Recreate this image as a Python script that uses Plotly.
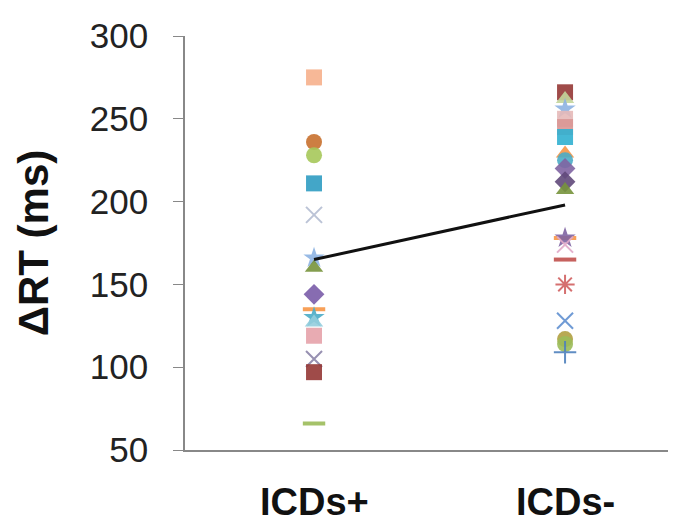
import plotly.graph_objects as go

categories = ["ICDs+", "ICDs-"]

# values (ms)
icds_pos = [275, 236, 228, 211, 192, 166, 160, 144, 135, 130, 127, 119, 105, 97, 66]
icds_neg = [266, 262, 256, 250, 245, 239, 229, 225, 220, 212, 207, 178, 178, 174, 165,
            150, 128, 117, 114, 109]
means = [165, 198]

# marker styles (Excel-like series cycling)
pos_symbols = ["square", "circle", "circle", "square", "x-thin-open", "star", "triangle-up",
               "diamond", "line-ew-open", "star", "triangle-up", "square", "x-thin-open",
               "square", "line-ew-open"]
pos_colors = ["#F6B08C", "#C8702E", "#A6C85A", "#2F9CC2", "#B4BCD2", "#8DB3E2", "#77933C",
              "#7A5CA8", "#F79646", "#4BACC6", "#93CDDD", "#E6A2AA", "#8C84A8",
              "#953735", "#9BBB59"]
neg_symbols = ["square", "triangle-up", "star", "square", "square", "square", "triangle-up",
               "circle", "diamond", "diamond", "triangle-up", "line-ew-open", "star",
               "x-thin-open", "line-ew-open", "asterisk-open", "x-thin-open", "circle",
               "circle", "cross-thin-open"]
neg_colors = ["#953735", "#C3D69B", "#8DB3E2", "#E6B9B8", "#D99694", "#31B0D0", "#F79646",
              "#4BACC6", "#8064A2", "#60497A", "#77933C", "#F79646", "#8064A2",
              "#E0A8C8", "#C0504D", "#D06060", "#6090D0", "#B0A040", "#9BBB59", "#4F81BD"]


def line_widths(symbols):
    return [4 if s.startswith("line") else (2 if s.endswith("-open") else 0) for s in symbols]


fig = go.Figure()

fig.add_trace(go.Scatter(
    x=[0] * len(icds_pos), y=icds_pos, mode="markers",
    marker=dict(symbol=pos_symbols, color=pos_colors, size=16, opacity=0.9,
                line=dict(color=pos_colors, width=line_widths(pos_symbols))),
    showlegend=False
))
fig.add_trace(go.Scatter(
    x=[1] * len(icds_neg), y=icds_neg, mode="markers",
    marker=dict(symbol=neg_symbols, color=neg_colors, size=16, opacity=0.9,
                line=dict(color=neg_colors, width=line_widths(neg_symbols))),
    showlegend=False
))
fig.add_trace(go.Scatter(
    x=[0, 1], y=means, mode="lines",
    line=dict(color="#111111", width=3), showlegend=False
))

# category labels sit well below the axis, so place them as annotations
for i, cat in enumerate(categories):
    fig.add_annotation(
        x=i, y=0, xref="x", yref="paper", text="<b>" + cat + "</b>",
        showarrow=False, yanchor="middle", yshift=-52,
        font=dict(size=38, family="Liberation Sans, Arial, sans-serif", color="#111111")
    )

# page body has an 8px margin, so the figure is a bit smaller and shifted
fig.update_layout(
    width=668, height=522,
    margin=dict(l=177, r=0, t=28, b=80),
    paper_bgcolor="white", plot_bgcolor="white",
    font=dict(family="Liberation Sans, Arial, sans-serif", color="#222222"),
    xaxis=dict(
        range=[-0.514, 1.442], tickvals=[0, 1], showticklabels=False,
        showline=True, linecolor="#888888", linewidth=1.5, automargin=False,
        showgrid=False, zeroline=False, ticks=""
    ),
    yaxis=dict(
        range=[50, 300], tickvals=[50, 100, 150, 200, 250, 300],
        tickfont=dict(size=35, color="#222222"), automargin=False,
        showline=True, linecolor="#888888", linewidth=1.5,
        ticks="outside", ticklen=10, tickcolor="#888888",
        showgrid=False, zeroline=False, ticklabelstandoff=18,
        title=dict(text="<b>ΔRT (ms)</b>", font=dict(size=42, color="#111111"), standoff=28)
    )
)

fig.write_html("out.html")
